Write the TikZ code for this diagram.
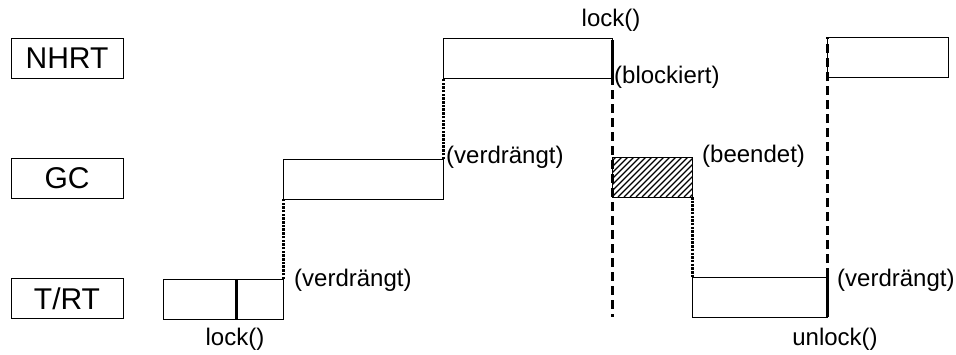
\documentclass[tikz,border=0pt]{standalone}
\usepackage{fontspec}
\setmainfont{Liberation Sans}
\begin{document}
\begin{tikzpicture}[x=1pt,y=-1pt,
  lane/.style={draw, line width=1pt, inner sep=0pt, outer sep=0pt,
    font=\fontsize{30}{30}\selectfont, minimum width=112pt, minimum height=40pt},
  slot/.style={draw, line width=1pt, inner sep=0pt, outer sep=0pt, anchor=north west},
  note/.style={font=\fontsize{24}{24}\selectfont, inner sep=0pt},
  dots/.style={line width=3pt, dash pattern=on 2.5pt off 1.2pt},
  dashes/.style={line width=3pt, dash pattern=on 9pt off 5pt},
  heavy/.style={line width=3pt}]
\useasboundingbox (0,0) rectangle (956,354);

% thread lanes
\node[lane] (nhrt) at (67,58) {NHRT};
\node[lane] (gc)   at (67,178.5) {GC};
\node[lane] (trt)  at (67,298.5) {T/RT};

% execution slots
\node[slot, minimum width=120pt, minimum height=40pt] (t1)  at (163,279) {};
\node[slot, minimum width=160pt, minimum height=40pt] (g1)  at (283,159) {};
\node[slot, minimum width=169pt, minimum height=40pt] (n1)  at (443,38) {};
\node[slot, minimum width=80pt,  minimum height=40pt] (g2)  at (612,157) {};
\node[slot, minimum width=135pt, minimum height=40pt] (t2)  at (692,277) {};
\node[slot, minimum width=121pt, minimum height=40pt] (n2)  at (827,37) {};

% hatching of the finished GC slot
\begin{scope}
  \clip (g2.south west) rectangle (g2.north east);
  \foreach \i in {-48,-42,...,84}
    \draw[line width=1.3pt] ([xshift=\i pt]g2.south west) -- ++(48,-48);
\end{scope}
\draw[line width=1pt] (g2.south west) rectangle (g2.north east);

% lock inside the first T/RT slot
\coordinate (lk) at (236,279);
\draw[heavy] (lk) -- (lk |- t1.south);

% preemptions
\draw[dots] (t1.north east) -- (g1.south west);
\draw[dots] (g1.north east) -- (n1.south west);
\draw[dots] (g2.south east) -- (t2.north west);

% blocking lock() of NHRT
\coordinate (blk) at ([yshift=-2pt]n1.north east);
\coordinate (blkend) at ([yshift=2pt]n1.south east);
\draw[heavy] (blk) -- (blkend);
\draw[dashes] (blkend) -- (blkend |- t2.south);

% unlock() and resumption of NHRT
\draw[heavy] (t2.north east) -- (t2.south east);
\draw[dashes] (t2.north east) -- (n2.north west);

% annotations
\node[note] (l1) at (235,339) {lock()};
\node[note, anchor=west] (v1) at (294,280) {(verdrängt)};
\node[note, anchor=west] (v2) at (446,157) {(verdrängt)};
\node[note] (l2) at (611,20) {lock()};
\node[note, anchor=west] (bl) at (614,77) {(blockiert)};
\node[note, anchor=west] (be) at (702,156) {(beendet)};
\node[note, anchor=west] (v3) at (837,280) {(verdrängt)};
\node[note] (ul) at (835,339) {unlock()};
\end{tikzpicture}
\end{document}
